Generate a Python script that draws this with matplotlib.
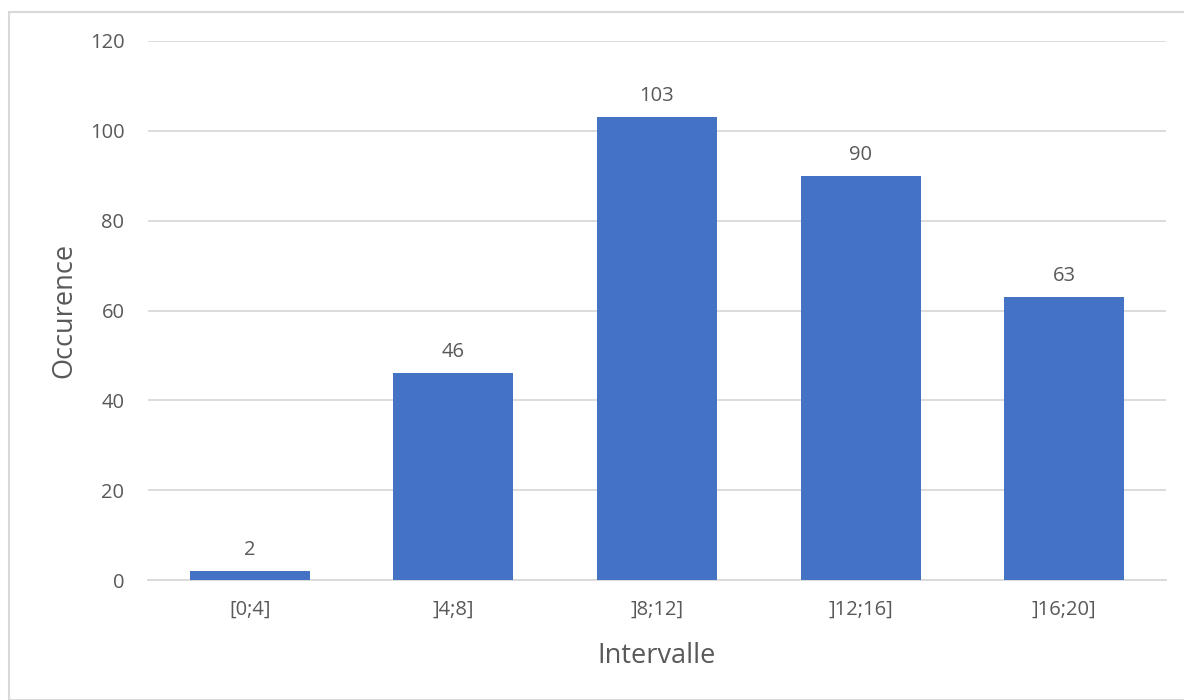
import matplotlib
matplotlib.use("Agg")
import matplotlib.pyplot as plt
from matplotlib.patches import Rectangle

categories = ["[0;4]", "]4;8]", "]8;12]", "]12;16]", "]16;20]"]
counts = [2, 46, 103, 90, 63]
y_ticks = [0, 20, 40, 60, 80, 100, 120]

plt.rcParams["font.family"] = ["Open Sans", "DejaVu Sans"]
text_color = "#595959"
bar_color = "#4472C4"
grid_color = "#D9D9D9"

fig = plt.figure(figsize=(11.84, 7.0), dpi=100)
W, H = 1184, 700
ax = fig.add_axes([148 / W, 1 - 580 / H, (1166 - 148) / W, (580 - 41) / H])

x = list(range(len(categories)))
ax.bar(x, counts, width=0.59, color=bar_color, zorder=3)
for xi, v in zip(x, counts):
    ax.annotate(str(v), (xi, v), xytext=(0, 8), textcoords="offset points",
                ha="center", va="bottom", fontsize=14.5, color=text_color)

ax.set_xlim(-0.5, len(categories) - 0.5)
ax.set_ylim(0, 120)
ax.set_yticks(y_ticks)
ax.set_xticks(x)
ax.set_xticklabels(categories)
ax.grid(axis="y", color=grid_color, linewidth=1.3, zorder=0)
for s in ["top", "right", "left"]:
    ax.spines[s].set_visible(False)
ax.spines["bottom"].set_color(grid_color)
ax.spines["bottom"].set_linewidth(1.3)
ax.tick_params(axis="both", length=0, labelsize=14.5, colors=text_color)
ax.tick_params(axis="y", pad=17)
ax.tick_params(axis="x", pad=14)
ax.set_xlabel("Intervalle", fontsize=19.5, color=text_color, labelpad=16)
ax.set_ylabel("Occurence", fontsize=19.5, color=text_color, labelpad=8)

# Chart-area frame
fig.patches.append(Rectangle((8.5 / W, 0), 1.2, 1 - 12 / H, transform=fig.transFigure,
                             fill=False, edgecolor=grid_color, linewidth=1.5))

fig.savefig("out.png", dpi=100)
